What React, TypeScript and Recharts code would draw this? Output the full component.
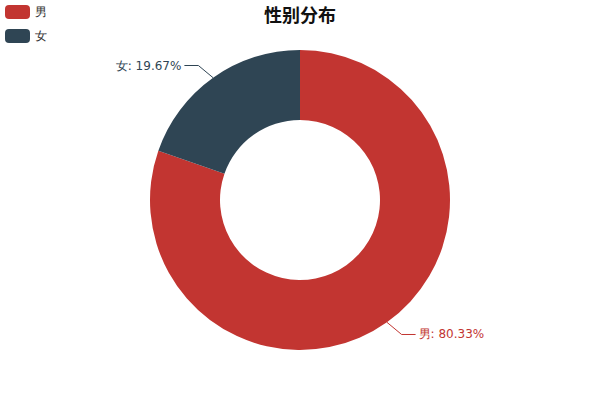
import { PieChart, Pie, Cell, Legend } from "recharts";

const categories = ["男", "女"];
const values = [80.33, 19.67];
const colors = ["#c23531", "#2f4554"];

const data = categories.map((name, i) => ({ name, value: values[i] }));

const RADIAN = Math.PI / 180;

function renderLabel(props: any) {
  const { cx, cy, midAngle, outerRadius, index, name, value } = props;
  const cos = Math.cos(-midAngle * RADIAN);
  const sin = Math.sin(-midAngle * RADIAN);
  const sx = cx + outerRadius * cos;
  const sy = cy + outerRadius * sin;
  const mx = cx + (outerRadius + 15) * cos + (cos >= 0 ? 6 : -6);
  const my = cy + (outerRadius + 15) * sin;
  const ex = mx + (cos >= 0 ? 1 : -1) * 14;
  const ey = my;
  const anchor = cos >= 0 ? "start" : "end";
  const color = colors[index];
  return (
    <g>
      <polyline
        points={`${sx},${sy} ${mx},${my} ${ex},${ey}`}
        fill="none"
        stroke={color}
        strokeWidth={1}
      />
      <text
        x={ex + (cos >= 0 ? 3 : -3)}
        y={ey}
        textAnchor={anchor}
        dominantBaseline="central"
        fill={color}
        fontSize={12}
        fontFamily="DejaVu Sans, sans-serif"
      >
        {`${name}: ${value.toFixed(2)}%`}
      </text>
    </g>
  );
}

function LegendContent() {
  return (
    <div style={{ position: "absolute", left: 5, top: 5 }}>
      {categories.map((c, i) => (
        <div
          key={c}
          style={{ display: "flex", alignItems: "center", height: 14, marginBottom: 10 }}
        >
          <div
            style={{
              width: 25,
              height: 14,
              borderRadius: 4,
              background: colors[i],
              marginRight: 5,
            }}
          />
          <span
            style={{
              fontSize: 12,
              color: "#333",
              fontFamily: "DejaVu Sans, sans-serif",
            }}
          >
            {c}
          </span>
        </div>
      ))}
    </div>
  );
}

export default function App() {
  return (
    <div
      style={{
        position: "absolute",
        left: 0,
        top: 0,
        width: 600,
        height: 400,
        background: "#fff",
      }}
    >
      <div
        style={{
          position: "absolute",
          top: 3,
          left: 0,
          width: 600,
          textAlign: "center",
          fontSize: 18,
          fontWeight: "bold",
          color: "#111",
          fontFamily: "Noto Sans CJK SC, sans-serif",
          lineHeight: "22px",
        }}
      >
        性别分布
      </div>
      <PieChart width={600} height={400} margin={{ top: 0, right: 0, bottom: 0, left: 0 }}>
        <Legend content={<LegendContent />} wrapperStyle={{ top: 0, left: 0 }} />
        <Pie
          data={data}
          dataKey="value"
          nameKey="name"
          cx={300}
          cy={200}
          innerRadius={80}
          outerRadius={150}
          startAngle={90}
          endAngle={-270}
          stroke="none"
          label={renderLabel}
          labelLine={false}
          isAnimationActive={false}
        >
          {data.map((d, i) => (
            <Cell key={d.name} fill={colors[i]} />
          ))}
        </Pie>
      </PieChart>
    </div>
  );
}
